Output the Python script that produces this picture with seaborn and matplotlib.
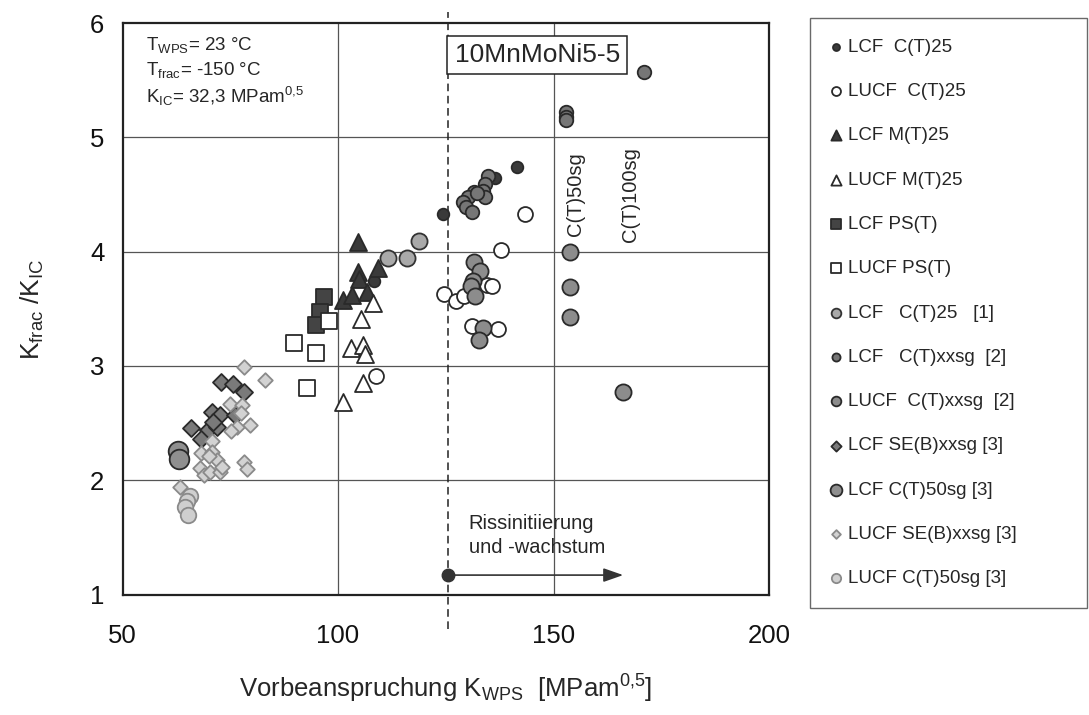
import matplotlib
matplotlib.use("Agg")
import matplotlib.pyplot as plt
from matplotlib.ticker import MultipleLocator
import seaborn as sns

sns.set_theme(style="white")
plt.rcParams["font.family"] = ["Liberation Sans", "DejaVu Sans"]
plt.rcParams["mathtext.default"] = "regular"

# --- data (K_WPS, Kfrac/KIC) ---
lcf_ct25_x = [124.4, 136.4, 141.6, 108.4]
lcf_ct25_y = [4.33, 4.64, 4.74, 3.74]

lucf_ct25_x = [143.4, 137.9, 124.7, 127.4, 129.3, 134.5, 135.7, 131.0, 137.1, 108.7]
lucf_ct25_y = [4.33, 4.01, 3.63, 3.57, 3.61, 3.71, 3.70, 3.35, 3.32, 2.91]

lcf_mt25_x = [104.7, 104.7, 104.9, 109.3, 101.2, 103.2, 106.8]
lcf_mt25_y = [4.08, 3.82, 3.76, 3.86, 3.58, 3.62, 3.65]

lucf_mt25_x = [108.1, 105.4, 103.0, 105.8, 106.3, 105.8, 101.1]
lucf_mt25_y = [3.55, 3.41, 3.16, 3.18, 3.10, 2.85, 2.68]

lcf_ps_x = [96.8, 95.8, 95.0]
lcf_ps_y = [3.60, 3.47, 3.36]

lucf_ps_x = [98.0, 94.9, 92.8, 89.8]
lucf_ps_y = [3.39, 3.11, 2.81, 3.20]

lcf_ct25_ref1_x = [118.7, 111.7, 115.9]
lcf_ct25_ref1_y = [4.09, 3.94, 3.94]

lcf_xxsg_x = [152.8, 152.8, 152.9, 170.9,
              134.9, 134.0, 133.7, 131.6, 134.1, 130.2, 129.1, 129.8, 131.0, 132.2]
lcf_xxsg_y = [5.22, 5.18, 5.15, 5.57,
              4.66, 4.59, 4.53, 4.52, 4.48, 4.48, 4.43, 4.39, 4.35, 4.51]

lucf_xxsg_x = [153.9, 153.9, 153.9, 166.0,
               131.6, 132.9, 131.2, 130.8, 131.8, 133.7, 132.6]
lucf_xxsg_y = [4.00, 3.69, 3.43, 2.77,
               3.91, 3.83, 3.74, 3.70, 3.61, 3.33, 3.23]

lcf_seb_x = [72.9, 75.7, 78.2, 70.8, 72.6, 76.2, 65.9, 69.8, 72.0, 68.1, 71.0]
lcf_seb_y = [2.86, 2.84, 2.77, 2.60, 2.57, 2.57, 2.46, 2.44, 2.47, 2.36, 2.51]

lcf_ct50_x = [62.8, 63.0]
lcf_ct50_y = [2.26, 2.19]

lucf_seb_x = [78.2, 83.0, 74.9, 77.8, 77.4, 79.6, 76.6, 75.2, 70.8, 68.1, 70.8,
              72.0, 70.0, 78.2, 78.8, 67.9, 68.8, 70.4, 72.7, 63.4, 73.1]
lucf_seb_y = [2.99, 2.88, 2.67, 2.66, 2.59, 2.48, 2.47, 2.43, 2.34, 2.24, 2.25,
              2.18, 2.21, 2.16, 2.10, 2.11, 2.05, 2.07, 2.07, 1.94, 2.12]

lucf_ct50_x = [65.7, 65.0, 64.6, 65.1]
lucf_ct50_y = [1.86, 1.82, 1.77, 1.70]

wps_limit = 125.5

series = [
    ("LCF  C(T)25", lcf_ct25_x, lcf_ct25_y, "o", "#3a3a3a", "#2a2a2a", 70),
    ("LUCF  C(T)25", lucf_ct25_x, lucf_ct25_y, "o", "white", "#2a2a2a", 115),
    ("LCF M(T)25", lcf_mt25_x, lcf_mt25_y, "^", "#3a3a3a", "#2a2a2a", 150),
    ("LUCF M(T)25", lucf_mt25_x, lucf_mt25_y, "^", "white", "#2a2a2a", 150),
    ("LCF PS(T)", lcf_ps_x, lcf_ps_y, "s", "#444444", "#2a2a2a", 130),
    ("LUCF PS(T)", lucf_ps_x, lucf_ps_y, "s", "white", "#2a2a2a", 120),
    ("LCF   C(T)25   [1]", lcf_ct25_ref1_x, lcf_ct25_ref1_y, "o", "#a9a9a9", "#333333", 135),
    ("LCF   C(T)xxsg  [2]", lcf_xxsg_x, lcf_xxsg_y, "o", "#767676", "#2a2a2a", 95),
    ("LUCF  C(T)xxsg  [2]", lucf_xxsg_x, lucf_xxsg_y, "o", "#8c8c8c", "#2a2a2a", 135),
    ("LCF SE(B)xxsg [3]", lcf_seb_x, lcf_seb_y, "D", "#7a7a7a", "#2a2a2a", 75),
    ("LCF C(T)50sg [3]", lcf_ct50_x, lcf_ct50_y, "o", "#8f8f8f", "#2a2a2a", 200),
    ("LUCF SE(B)xxsg [3]", lucf_seb_x, lucf_seb_y, "D", "#d2d2d2", "#8a8a8a", 55),
    ("LUCF C(T)50sg [3]", lucf_ct50_x, lucf_ct50_y, "o", "#cfcfcf", "#8a8a8a", 125),
]

fig = plt.figure(figsize=(10.89, 7.15), dpi=100)
ax = fig.add_axes([0.1125, 0.1685, 0.5937, 0.7993])

for label, xs, ys, marker, fc, ec, size in series:
    sns.scatterplot(x=xs, y=ys, marker=marker, color=fc, edgecolor=ec,
                    linewidth=1.3, s=size, label=label, legend=False,
                    ax=ax, zorder=3)

ax.set_xlim(50, 200)
ax.set_ylim(1, 6)
ax.xaxis.set_major_locator(MultipleLocator(50))
ax.xaxis.set_minor_locator(MultipleLocator(10))
ax.yaxis.set_major_locator(MultipleLocator(1))
ax.yaxis.set_minor_locator(MultipleLocator(0.2))
ax.tick_params(axis="both", which="both", direction="in", colors="#222222",
               top=False, right=False)
ax.tick_params(axis="both", which="minor", length=5, width=0.9)
ax.tick_params(axis="both", which="major", length=0, labelsize=18.5, labelcolor="#111111")
ax.tick_params(axis="x", which="major", pad=21)
ax.tick_params(axis="y", which="major", pad=13)

# grid lines
for yv in [2, 3, 4, 5]:
    ax.axhline(yv, color="#555555", linewidth=0.9, zorder=1)
for xv in [100, 150]:
    ax.axvline(xv, color="#555555", linewidth=0.9, zorder=1)
ax.axvline(wps_limit, ymin=-0.06, ymax=1.02, color="#222222", linewidth=1.1,
           linestyle=(0, (5, 3)), clip_on=False, zorder=2)

for sp in ax.spines.values():
    sp.set_color("#222222")
    sp.set_linewidth(1.6)

ax.set_xlabel(r"Vorbeanspruchung K$_{WPS}$  [MPam$^{0{,}5}$]", fontsize=18.5)
ax.set_ylabel(r"K$_{frac}$ /K$_{IC}$", fontsize=19)
ax.xaxis.set_label_coords(0.5, -0.137)
ax.yaxis.set_label_coords(-0.118, 0.5)

# annotations
ax.text(55.5, 5.81, "T$_{WPS}$= 23 °C", fontsize=13.5, va="center", ha="left")
ax.text(55.5, 5.59, "T$_{frac}$= -150 °C", fontsize=13.5, va="center", ha="left")
ax.text(55.5, 5.36, "K$_{IC}$= 32,3 MPam$^{0{,}5}$", fontsize=13.5, va="center", ha="left")
ax.text(146.2, 5.72, "10MnMoNi5-5", fontsize=19, ha="center", va="center",
        bbox=dict(boxstyle="square,pad=0.28", facecolor="white", edgecolor="#222222", linewidth=1.1))
ax.text(155.2, 4.5, "C(T)50sg", rotation=90, fontsize=14.5, ha="center", va="center")
ax.text(167.8, 4.5, "C(T)100sg", rotation=90, fontsize=14.5, ha="center", va="center")
ax.text(130.3, 1.62, "Rissinitiierung", fontsize=14.5, ha="left", va="center")
ax.text(130.3, 1.41, "und -wachstum", fontsize=14.5, ha="left", va="center")
ax.annotate("", xy=(166.8, 1.17), xytext=(wps_limit, 1.17),
            arrowprops=dict(arrowstyle="-|>,head_length=1.0,head_width=0.35",
                            color="#333333", linewidth=1.2), zorder=4)
ax.plot([wps_limit], [1.17], "o", color="#333333", markersize=9, zorder=5)

handles, labels = ax.get_legend_handles_labels()
leg = fig.legend(handles, labels, loc="upper left",
                 bbox_to_anchor=(0.744, 0.10, 0.254, 0.875), mode="expand",
                 frameon=True, fancybox=False, edgecolor="#444444", fontsize=13.5,
                 markerscale=0.6, handlelength=0.6, handletextpad=0.3,
                 labelspacing=1.45, borderpad=1.1, borderaxespad=0)
leg.get_frame().set_linewidth(1.0)

fig.savefig("out.png", dpi=100)
